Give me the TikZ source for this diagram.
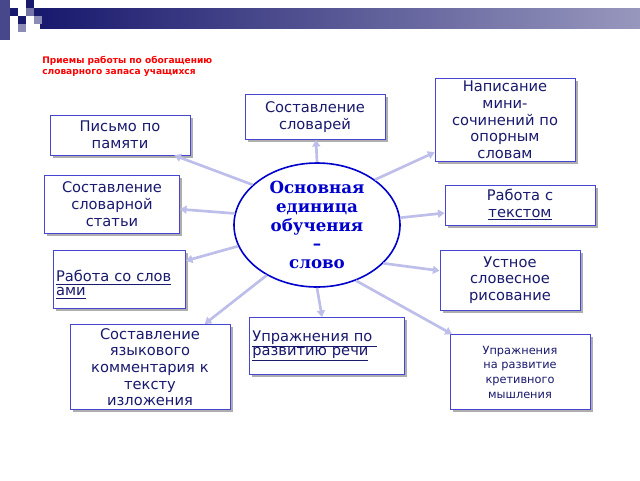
\documentclass[tikz,border=0pt]{standalone}
\usepackage{fontspec}
\setmainfont{DejaVu Sans}
\newfontfamily\serifb{DejaVu Serif}
\usetikzlibrary{shadows,arrows.meta,shapes.geometric}
\definecolor{navy}{RGB}{25,25,110}
\definecolor{bord}{RGB}{70,70,210}
\definecolor{lav}{RGB}{190,190,235}
\begin{document}
\begin{tikzpicture}[x=0.75pt,y=-0.75pt,
  bx/.style={draw=bord,fill=white,line width=0.6pt,drop shadow={shadow xshift=2pt,shadow yshift=-2pt,fill=black!45,opacity=0.7},
    align=center,text=navy,font=\fontsize{11}{12.5}\selectfont,inner sep=2pt},
  con/.style={draw=lav,line width=2pt,-{Triangle[length=5pt,width=6pt]}}]
\useasboundingbox (0,0) rectangle (640,480);
% header
\shade[left color=navy,right color=navy!45] (40,8) rectangle (640,28);
\fill[navy!80] (0,0) rectangle (10,40);
\fill[white] (10,0) rectangle (40,36);
\fill[navy] (10,8) rectangle (18,16);
\fill[navy] (26,0) rectangle (34,8);
\fill[navy!60] (26,8) rectangle (34,16);
\fill[navy] (34,8) rectangle (42,16);
\fill[navy] (18,16) rectangle (26,24);
\fill[navy!50] (34,16) rectangle (42,24);
\fill[navy!50] (18,24) rectangle (26,32);
\node[anchor=north west,align=left,text=red,font=\bfseries\fontsize{6.8}{8.5}\selectfont,inner sep=0] (title) at (42,56) {Приемы работы по обогащению\\словарного запаса учащихся};
% center
\node[draw=blue!80!black,line width=1.2pt,ellipse,minimum width=166*0.75pt,minimum height=124*0.75pt,fill=white,align=center,text=blue!80!black,font=\serifb\bfseries\fontsize{12.5}{14}\selectfont,inner sep=0] (c) at (317,225) {Основная\\единица\\обучения\\–\\слово};
% boxes
\node[bx,minimum width=140*0.75pt,minimum height=80*0.75pt,text width=100pt] (a1) at (505,120) {Написание\\мини-\\сочинений по\\опорным\\словам};
\node[bx,minimum width=140*0.75pt,minimum height=45*0.75pt,text width=100pt] (a2) at (315,117) {Составление\\словарей};
\node[bx,minimum width=140*0.75pt,minimum height=40*0.75pt,text width=100pt] (a3) at (120,135) {Письмо по\\памяти};
\node[bx,minimum width=135*0.75pt,minimum height=58*0.75pt,text width=96pt] (a4) at (112,204) {Составление\\словарной\\статьи};
\node[bx,minimum width=150*0.75pt,minimum height=40*0.75pt,text width=108pt] (a5) at (520,205) {Работа с\\\underline{текстом}};
\node[bx,minimum width=132*0.75pt,minimum height=58*0.75pt,text width=95pt,align=left,anchor=north west] (a6) at (53,250) {\\[4pt]\underline{Работа со слов}\\[-2pt]\underline{ами}};
\node[bx,minimum width=140*0.75pt,minimum height=60*0.75pt,text width=100pt] (a7) at (510,280) {Устное\\словесное\\рисование};
\node[bx,minimum width=155*0.75pt,minimum height=57*0.75pt,text width=112pt,align=left] (a8) at (327,346) {\underline{Упражнения по }\\[-2pt]\underline{развитию речи}};
\node[bx,minimum width=160*0.75pt,minimum height=85*0.75pt,text width=116pt,font=\fontsize{11}{12.5}\selectfont] (a9) at (150,367) {Составление\\языкового\\комментария к\\тексту\\изложения};
\node[bx,minimum width=140*0.75pt,minimum height=75*0.75pt,text width=100pt,font=\fontsize{8.5}{11}\selectfont] (a10) at (520,372) {Упражнения\\на развитие\\кретивного\\мышления};
% connectors
\foreach \t/\ang in {a1/38,a2/90,a3/148,a4/172,a5/5,a6/195,a7/-30,a8/-90,a9/-135,a10/-55}
  \draw[con] (c.\ang) -- (\t);
\end{tikzpicture}
\end{document}
